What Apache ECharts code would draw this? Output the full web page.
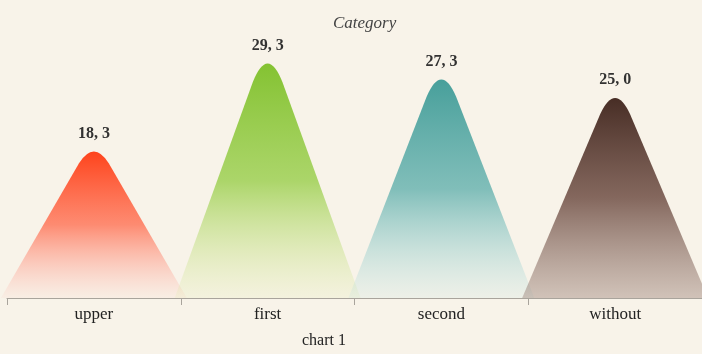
<!DOCTYPE html>
<html>
<head>
<meta charset="utf-8">
<script src="https://cdn.jsdelivr.net/npm/echarts@6/dist/echarts.min.js"></script>
<style>
  html, body { margin: 0; padding: 0; background: #f8f3e9; }
  #chart { width: 702px; height: 354px; }
</style>
</head>
<body>
<div id="chart"></div>
<script>
// Categories and their values
const categories = ['upper', 'first', 'second', 'without'];
const values = [18.3, 29.3, 27.3, 25.0];
// Gradient stops of each spike: tip, middle, base
const topColors = ['rgba(255,52,10,1)', 'rgba(122,190,34,1)', 'rgba(56,152,148,1)', 'rgba(56,28,20,1)'];
const midColors = ['rgba(255,110,80,0.85)', 'rgba(150,205,70,0.85)', 'rgba(95,175,172,0.85)', 'rgba(100,65,55,0.85)'];
const baseColors = ['rgba(255,170,160,0.08)', 'rgba(215,232,150,0.15)', 'rgba(170,220,222,0.15)', 'rgba(140,110,100,0.4)'];

const serif = '"Liberation Serif", "DejaVu Serif", serif';

// Triangle with a rounded tip
const spike = 'path://M0,100 L42,8 Q50,-8 58,8 L100,100 Z';

const chart = echarts.init(document.getElementById('chart'));
chart.setOption({
  backgroundColor: '#f8f3e9',
  animation: false,
  title: [
    {
      text: 'chart 1',
      left: 297,
      bottom: 0,
      textStyle: { fontFamily: serif, fontSize: 16, fontWeight: 'normal', color: '#222' }
    },
    {
      text: 'Category',
      left: 328,
      top: 10,
      textStyle: { fontFamily: serif, fontSize: 17, fontWeight: 'normal', fontStyle: 'italic', color: '#444' }
    }
  ],
  grid: { left: 7, width: 704, top: 18, bottom: 56 },
  xAxis: {
    type: 'category',
    data: categories,
    axisLine: { lineStyle: { color: '#a9a49c', width: 1 } },
    axisTick: { show: true, length: 7, lineStyle: { color: '#a9a49c' } },
    axisLabel: { fontFamily: serif, fontSize: 17, color: '#222', margin: 8 }
  },
  yAxis: {
    type: 'value',
    min: 0,
    max: 35,
    show: false,
    splitLine: { show: false }
  },
  series: [{
    type: 'pictorialBar',
    symbol: spike,
    barCategoryGap: '0%',
    symbolSize: ['107%', '100%'],
    data: values.map((v, i) => ({
      value: v,
      itemStyle: {
        color: new echarts.graphic.LinearGradient(0, 0, 0, 1, [
          { offset: 0, color: topColors[i] },
          { offset: 0.5, color: midColors[i] },
          { offset: 1, color: baseColors[i] }
        ])
      }
    })),
    itemStyle: { opacity: 0.92 },
    label: {
      show: true,
      position: 'top',
      distance: 10,
      fontFamily: serif,
      fontSize: 16,
      fontWeight: 'bold',
      color: '#222',
      formatter: p => p.value.toFixed(1).replace('.', ', ')
    },
    z: 10
  }]
});
</script>
</body>
</html>
